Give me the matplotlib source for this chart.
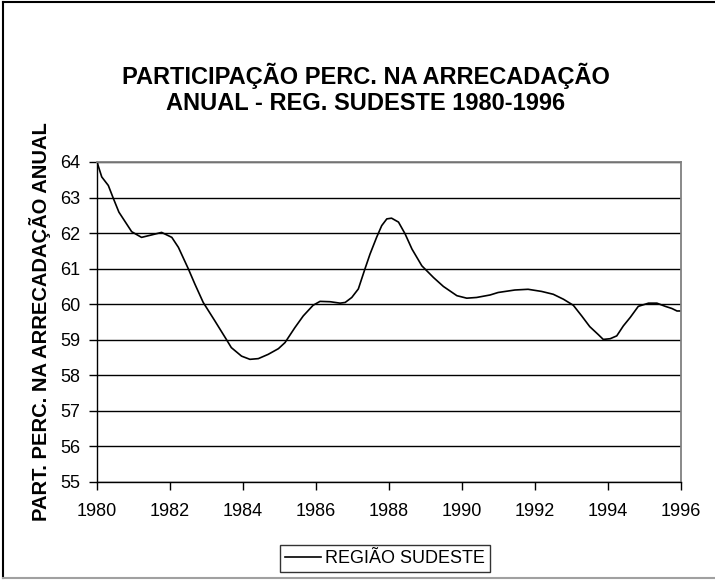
import matplotlib
matplotlib.use("Agg")
import matplotlib.pyplot as plt
from matplotlib.lines import Line2D

plt.rcParams["font.family"] = ["Liberation Sans", "DejaVu Sans"]

# -----------------------------
# DATA
# -----------------------------
years = [1980.0, 1980.13, 1980.31, 1980.45, 1980.6, 1980.81, 1980.95, 1981.22,
         1981.5, 1981.77, 1982.05, 1982.23, 1982.5, 1982.68, 1982.91, 1983.23,
         1983.55, 1983.68, 1983.96, 1984.19, 1984.42, 1984.69, 1984.97, 1985.15,
         1985.42, 1985.65, 1985.92, 1986.11, 1986.39, 1986.66, 1986.8, 1986.98,
         1987.16, 1987.34, 1987.48, 1987.66, 1987.8, 1987.94, 1988.07, 1988.26,
         1988.44, 1988.63, 1988.9, 1989.22, 1989.49, 1989.86, 1990.13, 1990.4,
         1990.77, 1990.99, 1991.45, 1991.81, 1992.18, 1992.5, 1992.78, 1993.05,
         1993.28, 1993.5, 1993.74, 1993.87, 1994.06, 1994.24, 1994.42, 1994.61,
         1994.83, 1995.11, 1995.34, 1995.57, 1995.75, 1995.89, 1996.0]
sudeste = [64.0, 63.58, 63.34, 62.97, 62.59, 62.26, 62.04, 61.88,
           61.95, 62.02, 61.88, 61.6, 61.0, 60.57, 60.05, 59.53,
           59.0, 58.78, 58.54, 58.45, 58.47, 58.59, 58.75, 58.92,
           59.34, 59.67, 59.97, 60.08, 60.07, 60.03, 60.05, 60.19,
           60.43, 60.99, 61.41, 61.88, 62.21, 62.40, 62.42, 62.31,
           61.98, 61.55, 61.08, 60.75, 60.50, 60.24, 60.17, 60.19,
           60.26, 60.33, 60.40, 60.42, 60.36, 60.28, 60.14, 59.97,
           59.67, 59.37, 59.14, 59.01, 59.03, 59.11, 59.39, 59.63,
           59.94, 60.03, 60.03, 59.94, 59.88, 59.81, 59.81]

x_ticks = list(range(1980, 1997, 2))
y_ticks = list(range(55, 65))

titulo = "PARTICIPAÇÃO PERC. NA ARRECADAÇÃO\nANUAL - REG. SUDESTE 1980-1996"
y_label = "PART. PERC. NA ARRECADAÇÃO ANUAL"
serie = "REGIÃO SUDESTE"

W, H = 715, 580

# -----------------------------
# FIGURE
# -----------------------------
fig = plt.figure(figsize=(W / 100, H / 100), dpi=100)
ax = fig.add_axes([97 / W, 1 - 482 / H, (681 - 97) / W, (482 - 162) / H])

# outer chart frame (right side falls outside the picture)
fig.add_artist(Line2D([2.5 / W, 2.5 / W], [2 / H, 1 - 2 / H], color="black", lw=1.5,
                      transform=fig.transFigure))
fig.add_artist(Line2D([2.5 / W, 1], [1 - 2 / H, 1 - 2 / H], color="black", lw=1.5,
                      transform=fig.transFigure))
fig.add_artist(Line2D([2.5 / W, 1], [2 / H, 2 / H], color="#a0a0a0", lw=1.5,
                      transform=fig.transFigure))

line, = ax.plot(years, sudeste, color="black", linewidth=1.2, label=serie)

ax.set_xlim(1980, 1996)
ax.set_ylim(55, 64)
ax.set_xticks(x_ticks)
ax.set_yticks(y_ticks)
ax.tick_params(direction="out", length=6, width=1, labelsize=13, colors="black")
ax.tick_params(axis="x", pad=9)
ax.tick_params(axis="y", pad=6)

ax.set_axisbelow(True)
ax.yaxis.grid(True, color="black", linewidth=1)
ax.xaxis.grid(False)

for s in ["left", "bottom"]:
    ax.spines[s].set_color("black")
    ax.spines[s].set_linewidth(1)
for s in ["top", "right"]:
    ax.spines[s].set_color("#808080")
    ax.spines[s].set_linewidth(1.3)

fig.text(40 / W, 1 - 322 / H, y_label, rotation=90, ha="center", va="center",
         fontsize=14.5, fontweight="bold")

fig.text(366 / W, 1 - 89 / H, titulo, ha="center", va="center",
         fontsize=17, fontweight="bold", linespacing=1.18)

leg = fig.legend(handles=[line], loc="center", bbox_to_anchor=(385 / W, 1 - 558.5 / H),
                 fontsize=13, frameon=True, fancybox=False, edgecolor="black",
                 handlelength=2.0, borderpad=0.28, handletextpad=0.25, borderaxespad=0)
leg.get_frame().set_linewidth(1)

fig.savefig("out.png", dpi=100)
